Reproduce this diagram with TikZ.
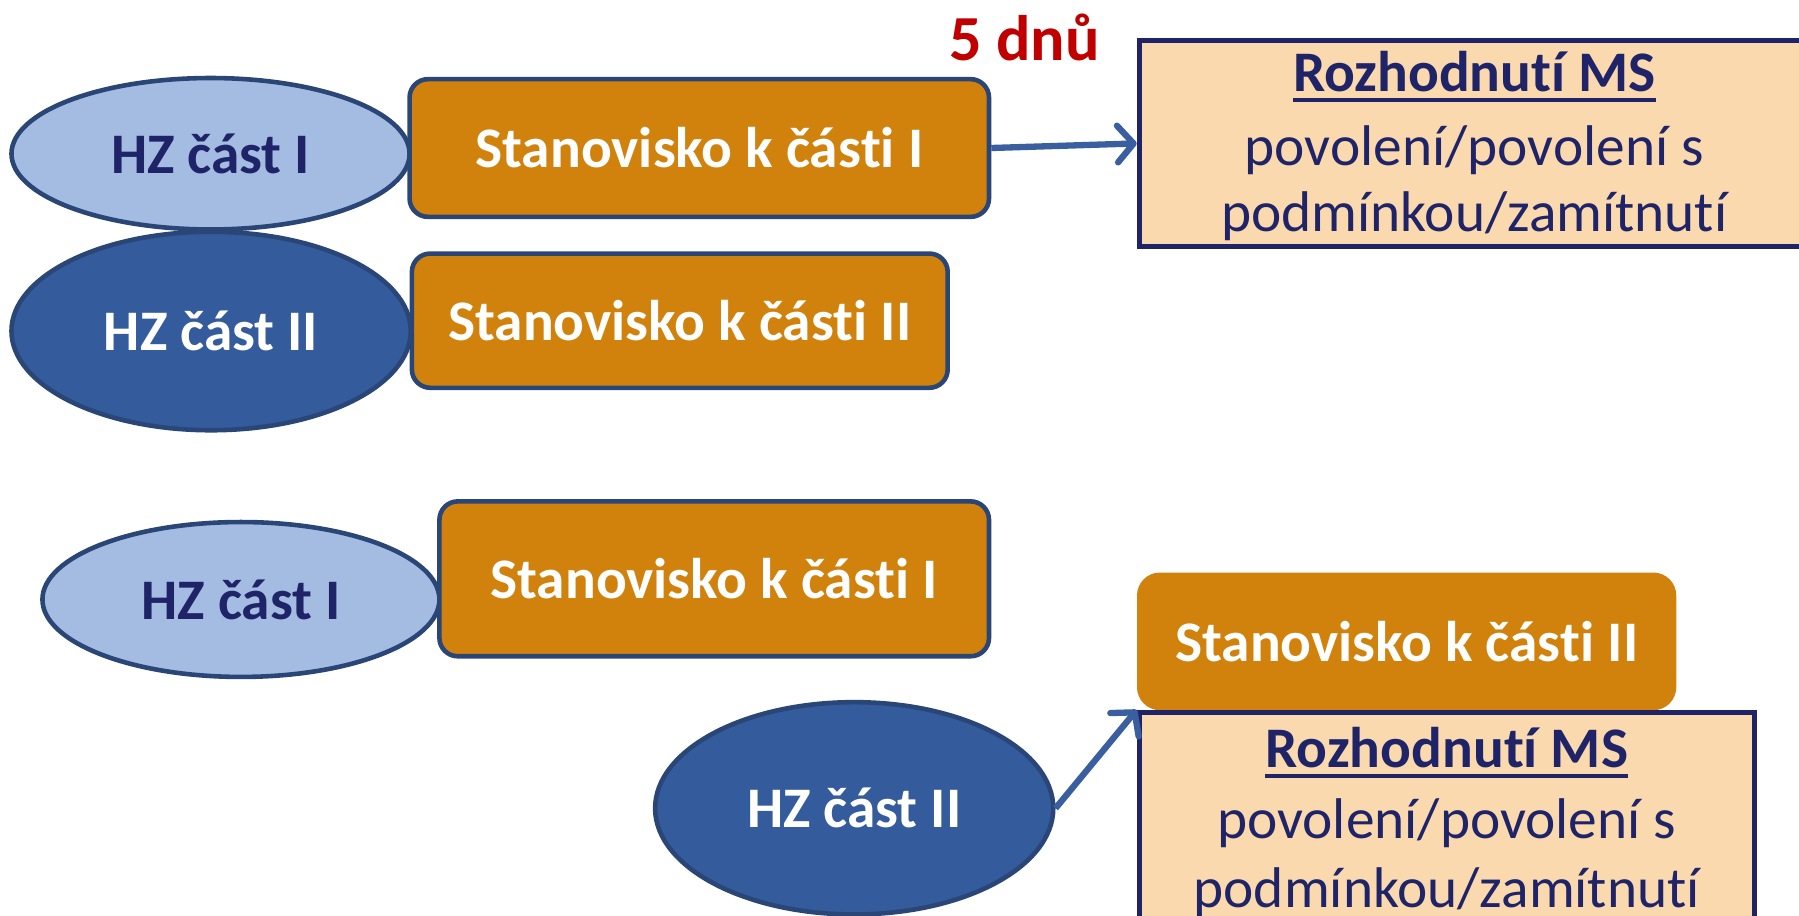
\documentclass[tikz,border=0pt]{standalone}
\usepackage{fontspec}
\setmainfont{Carlito}[Ligatures={NoCommon,NoRequired,NoContextual}]
\usetikzlibrary{shapes.geometric,arrows.meta}
\newcommand{\nolig}{\kern0pt }
\definecolor{lightell}{HTML}{A4BCE1}
\definecolor{darkell}{HTML}{345B9B}
\definecolor{ellborder}{HTML}{2A4677}
\definecolor{orangebox}{HTML}{D1820C}
\definecolor{navytext}{HTML}{1F2468}
\definecolor{peach}{HTML}{FAD9AE}
\definecolor{redtext}{HTML}{C00000}
\definecolor{arrowblue}{HTML}{3A5FA0}
\tikzset{
  lightellipse/.style={ellipse, fill=lightell, draw=ellborder, line width=4pt, inner sep=0pt, font=\fontsize{50pt}{60pt}\selectfont\bfseries, text=navytext},
  darkellipse/.style={ellipse, fill=darkell, draw=ellborder, line width=4pt, inner sep=0pt, font=\fontsize{50pt}{60pt}\selectfont\bfseries, text=white},
  stanbox/.style={rectangle, rounded corners=16pt, fill=orangebox, draw=ellborder, line width=4pt, inner sep=0pt, font=\fontsize{50pt}{60pt}\selectfont\bfseries, text=white},
  stanboxplain/.style={rectangle, rounded corners=20pt, fill=orangebox, inner sep=0pt, font=\fontsize{50pt}{60pt}\selectfont\bfseries, text=white},
  decbox/.style={rectangle, fill=peach, draw=navytext, line width=4.5pt, inner sep=0pt},
  dectext/.style={inner sep=0pt, anchor=base, text=navytext, font=\fontsize{50pt}{60pt}\selectfont},
  dechead/.style={inner sep=0pt, anchor=base, text=navytext, font=\fontsize{50pt}{60pt}\selectfont\bfseries},
  conn/.style={draw=arrowblue, line width=5.5pt, -{Straight Barb[length=14pt, width=32pt, line width=5.5pt, round]}},
}
\begin{document}
\begin{tikzpicture}[x=1pt, y=-1pt]
\useasboundingbox (0,0) rectangle (1568,798);
\clip (0,0) rectangle (1568,798);
% top group
\node[lightellipse, minimum width=347pt, minimum height=132pt] (a1) at (183.5,134) {HZ část I};
\node[stanbox, minimum width=505pt, minimum height=120pt] (s1) at (609.5,129) {Stanovisko k čás\nolig ti I};
\node[darkellipse, minimum width=348pt, minimum height=173pt] (a2) at (184,288.5) {HZ část II};
\node[stanbox, minimum width=467pt, minimum height=117pt] (s2) at (592.5,279.5) {Stanovisko k čás\nolig ti II};
\node[inner sep=0pt, text=redtext, font=\fontsize{56pt}{60pt}\selectfont\bfseries] (days) at (893,33) {5 dnů};
\node[decbox, minimum width=584pt, minimum height=180pt] (r1) at (1285,125) {};
\node[dechead] (r1a) at (1285,80) {Rozhodnut\nolig í MS};
\draw[navytext, line width=3.5pt] ([yshift=-7pt]r1a.base west) -- ([yshift=-7pt]r1a.base east);
\node[dectext] (r1b) at (1285,144) {povolení/povolení s};
\node[dectext] (r1c) at (1285,202) {podmínkou/zamít\nolig nut\nolig í};
\draw[conn] (s1.east) -- (r1.west);
% bottom group
\node[lightellipse, minimum width=346pt, minimum height=135pt] (b1) at (210,522.5) {HZ část I};
\node[stanbox, minimum width=479pt, minimum height=135pt] (s3) at (622.5,504.5) {Stanovisko k čás\nolig ti I};
\node[stanboxplain, minimum width=470pt, minimum height=120pt] (s4) at (1226,559) {Stanovisko k čás\nolig ti II};
\node[decbox, minimum width=536pt, minimum height=229pt] (r2) at (1261,735.5) {};
\node[dechead] (r2a) at (1261,669) {Rozhodnut\nolig í MS};
\draw[navytext, line width=3.5pt] ([yshift=-7pt]r2a.base west) -- ([yshift=-7pt]r2a.base east);
\node[dectext] (r2b) at (1261,731) {povolení/povolení s};
\node[dectext] (r2c) at (1261,791) {podmínkou/zamít\nolig nut\nolig í};
\node[darkellipse, minimum width=347pt, minimum height=185pt] (b2) at (744.5,704.5) {HZ část II};
\draw[conn] (b2.east) -- (r2.north west);
\end{tikzpicture}
\end{document}
